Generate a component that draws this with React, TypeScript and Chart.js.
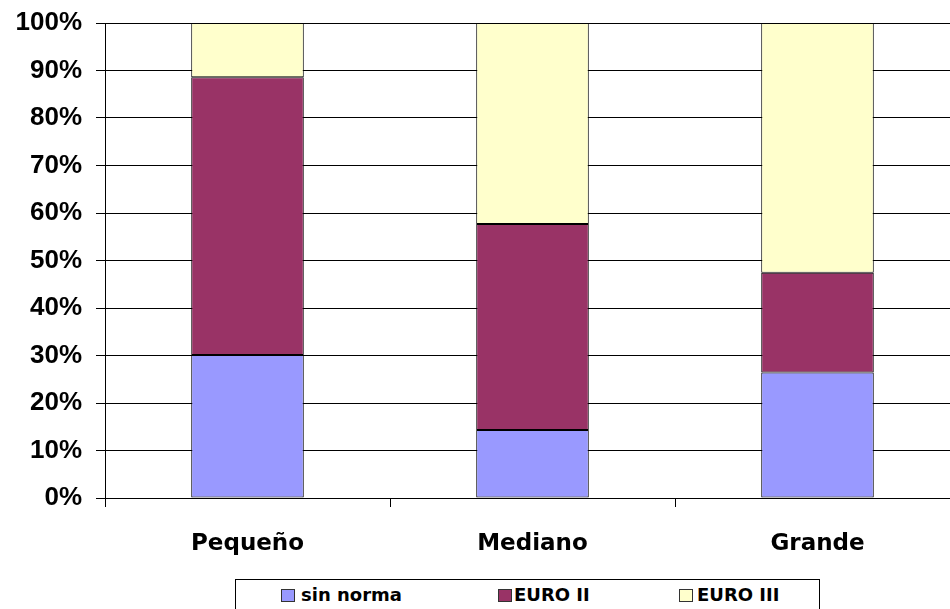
import React, { useEffect, useRef } from "react";
import { Chart, registerables } from "chart.js";

Chart.register(...registerables);

// Vehicle size categories
const categories = ["Pequeño", "Mediano", "Grande"];

// Share of each emission standard per category (%)
const sinNorma = [30.1, 14.3, 26.4];
const euroII = [58.5, 43.4, 21.0];
const euroIII = [11.4, 42.3, 52.6];

const seriesNames = ["sin norma", "EURO II", "EURO III"];
const seriesColors = ["#9999FF", "#993366", "#FFFFCC"];

// Y axis ticks
const yTicks = [0, 10, 20, 30, 40, 50, 60, 70, 80, 90, 100];

const legendOffsets = [
  { box: 45, text: 65 },
  { box: 262, text: 278 },
  { box: 443, text: 461 },
];

export default function App() {
  const canvasRef = useRef<HTMLCanvasElement | null>(null);

  useEffect(() => {
    const canvas = canvasRef.current;
    if (!canvas) return;
    const values = [sinNorma, euroII, euroIII];
    const chart = new Chart(canvas, {
      type: "bar",
      data: {
        labels: categories,
        datasets: values.map((data, i) => ({
          label: seriesNames[i],
          data,
          backgroundColor: seriesColors[i],
          borderColor: "#000000",
          borderWidth: 1,
          borderSkipped: false,
          barPercentage: 0.395,
          categoryPercentage: 1,
        })),
      },
      options: {
        responsive: false,
        animation: false,
        maintainAspectRatio: false,
        layout: { padding: { top: 23, right: 10, left: 0, bottom: 0 } },
        plugins: {
          legend: { display: false },
          tooltip: { enabled: false },
        },
        scales: {
          x: {
            stacked: true,
            afterFit: (scale: any) => {
              scale.height = 111;
            },
            grid: {
              offset: true,
              drawOnChartArea: false,
              drawTicks: true,
              tickLength: 9,
              color: "#000000",
            },
            border: { display: true, color: "#000000", width: 1 },
            ticks: {
              color: "#000000",
              padding: 23,
              font: { family: "DejaVu Sans", weight: "bold", size: 23 },
            },
          },
          y: {
            stacked: true,
            min: 0,
            max: 100,
            afterFit: (scale: any) => {
              scale.width = 105;
              scale.paddingTop = 0;
              scale.paddingBottom = 0;
            },
            afterBuildTicks: (scale: any) => {
              scale.ticks = yTicks.map((v) => ({ value: v }));
            },
            grid: {
              color: "#000000",
              lineWidth: 1,
              drawTicks: true,
              tickLength: 9,
            },
            border: { display: true, color: "#000000", width: 1 },
            ticks: {
              color: "#000000",
              padding: 14,
              font: { family: "Liberation Sans", weight: "bold", size: 26 },
              callback: (v: any) => `${v}%`,
            },
          },
        },
      },
    });
    return () => chart.destroy();
  }, []);

  return (
    <div
      style={{
        position: "fixed",
        left: 0,
        top: 0,
        width: 950,
        height: 609,
        overflow: "hidden",
        background: "#ffffff",
      }}
    >
      <canvas
        ref={canvasRef}
        width={970}
        height={609}
        style={{ position: "absolute", left: 0, top: 0, width: 970, height: 609 }}
      />
      <div
        style={{
          position: "absolute",
          left: 235,
          top: 579,
          width: 585,
          height: 50,
          border: "1px solid #000000",
          boxSizing: "border-box",
          background: "#ffffff",
        }}
      >
        {seriesNames.map((name, i) => (
          <React.Fragment key={name}>
            <div
              style={{
                position: "absolute",
                left: legendOffsets[i].box,
                top: 9,
                width: 14,
                height: 13,
                background: seriesColors[i],
                border: "1px solid #333333",
                boxSizing: "border-box",
              }}
            />
            <div
              style={{
                position: "absolute",
                left: legendOffsets[i].text,
                top: 2,
                fontFamily: "DejaVu Sans",
                fontWeight: "bold",
                fontSize: 18,
                lineHeight: "26px",
                color: "#000000",
                whiteSpace: "nowrap",
              }}
            >
              {name}
            </div>
          </React.Fragment>
        ))}
      </div>
    </div>
  );
}
